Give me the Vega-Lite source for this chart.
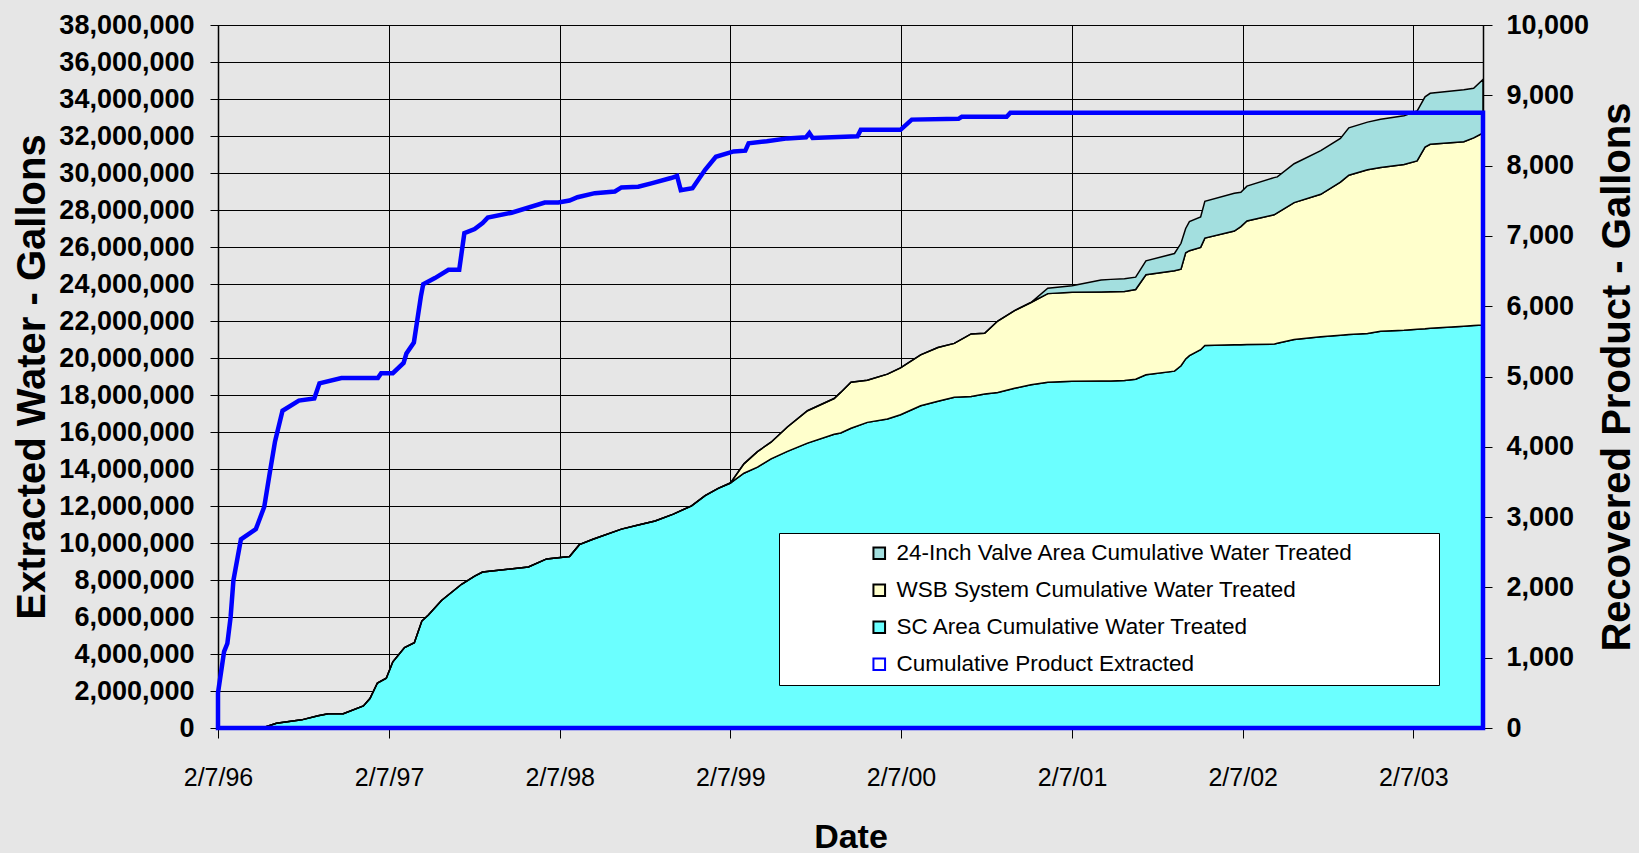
{
  "$schema": "https://vega.github.io/schema/vega-lite/v6.json",
  "autosize": {"type": "none"},
  "width": 1265,
  "height": 703,
  "padding": {"left": 218, "top": 25, "right": 156, "bottom": 125},
  "background": "#e6e6e6",
  "config": {
    "view": {"stroke": "#000000", "strokeWidth": 1},
    "axis": {
      "labelFont": "Liberation Sans",
      "titleFont": "Liberation Sans",
      "labelColor": "#000000",
      "titleColor": "#000000",
      "tickColor": "#000000",
      "domainColor": "#000000",
      "gridColor": "#000000",
      "gridOpacity": 1,
      "gridWidth": 1,
      "domainWidth": 1.5,
      "labelFlush": false,
      "labelOverlap": false
    }
  },
  "datasets": {
    "seriesInfo": [
      {"key": "sc", "name": "SC Area Cumulative Water Treated", "k": 1},
      {"key": "wsb", "name": "WSB System Cumulative Water Treated", "k": 2},
      {"key": "valve", "name": "24-Inch Valve Area Cumulative Water Treated", "k": 3}
    ],
    "water": [
      {"date": "1996-02-07", "sc": 0, "wsb": 0, "valve": 0},
      {"date": "1996-05-18", "sc": 50000, "wsb": 0, "valve": 0},
      {"date": "1996-06-11", "sc": 260000, "wsb": 0, "valve": 0},
      {"date": "1996-08-04", "sc": 440000, "wsb": 0, "valve": 0},
      {"date": "1996-09-08", "sc": 660000, "wsb": 0, "valve": 0},
      {"date": "1996-09-30", "sc": 770000, "wsb": 0, "valve": 0},
      {"date": "1996-11-01", "sc": 770000, "wsb": 0, "valve": 0},
      {"date": "1996-12-14", "sc": 1190000, "wsb": 0, "valve": 0},
      {"date": "1996-12-28", "sc": 1590000, "wsb": 0, "valve": 0},
      {"date": "1997-01-13", "sc": 2430000, "wsb": 0, "valve": 0},
      {"date": "1997-02-01", "sc": 2690000, "wsb": 0, "valve": 0},
      {"date": "1997-02-15", "sc": 3580000, "wsb": 0, "valve": 0},
      {"date": "1997-03-12", "sc": 4350000, "wsb": 0, "valve": 0},
      {"date": "1997-04-02", "sc": 4610000, "wsb": 0, "valve": 0},
      {"date": "1997-04-18", "sc": 5780000, "wsb": 0, "valve": 0},
      {"date": "1997-05-02", "sc": 6110000, "wsb": 0, "valve": 0},
      {"date": "1997-05-30", "sc": 6890000, "wsb": 0, "valve": 0},
      {"date": "1997-07-12", "sc": 7770000, "wsb": 0, "valve": 0},
      {"date": "1997-08-09", "sc": 8210000, "wsb": 0, "valve": 0},
      {"date": "1997-08-26", "sc": 8430000, "wsb": 0, "valve": 0},
      {"date": "1997-12-02", "sc": 8700000, "wsb": 0, "valve": 0},
      {"date": "1998-01-10", "sc": 9140000, "wsb": 0, "valve": 0},
      {"date": "1998-02-28", "sc": 9270000, "wsb": 0, "valve": 0},
      {"date": "1998-03-21", "sc": 9910000, "wsb": 0, "valve": 0},
      {"date": "1998-04-19", "sc": 10200000, "wsb": 0, "valve": 0},
      {"date": "1998-06-19", "sc": 10750000, "wsb": 0, "valve": 0},
      {"date": "1998-07-25", "sc": 10970000, "wsb": 0, "valve": 0},
      {"date": "1998-08-30", "sc": 11190000, "wsb": 0, "valve": 0},
      {"date": "1998-10-08", "sc": 11560000, "wsb": 0, "valve": 0},
      {"date": "1998-11-16", "sc": 12010000, "wsb": 0, "valve": 0},
      {"date": "1998-12-15", "sc": 12560000, "wsb": 0, "valve": 0},
      {"date": "1999-01-12", "sc": 12950000, "wsb": 0, "valve": 0},
      {"date": "1999-02-07", "sc": 13240000, "wsb": 0, "valve": 0},
      {"date": "1999-03-08", "sc": 13770000, "wsb": 510000, "valve": 0},
      {"date": "1999-04-06", "sc": 14100000, "wsb": 840000, "valve": 0},
      {"date": "1999-05-05", "sc": 14550000, "wsb": 900000, "valve": 0},
      {"date": "1999-06-09", "sc": 14950000, "wsb": 1320000, "valve": 0},
      {"date": "1999-07-22", "sc": 15400000, "wsb": 1750000, "valve": 0},
      {"date": "1999-09-17", "sc": 15880000, "wsb": 1930000, "valve": 0},
      {"date": "1999-10-01", "sc": 15950000, "wsb": 2190000, "valve": 0},
      {"date": "1999-10-23", "sc": 16200000, "wsb": 2490000, "valve": 0},
      {"date": "1999-11-27", "sc": 16520000, "wsb": 2280000, "valve": 0},
      {"date": "2000-01-09", "sc": 16700000, "wsb": 2430000, "valve": 0},
      {"date": "2000-02-06", "sc": 16930000, "wsb": 2540000, "valve": 0},
      {"date": "2000-03-20", "sc": 17420000, "wsb": 2750000, "valve": 0},
      {"date": "2000-04-26", "sc": 17660000, "wsb": 2910000, "valve": 0},
      {"date": "2000-05-31", "sc": 17880000, "wsb": 2910000, "valve": 0},
      {"date": "2000-07-06", "sc": 17920000, "wsb": 3380000, "valve": 0},
      {"date": "2000-08-04", "sc": 18050000, "wsb": 3290000, "valve": 0},
      {"date": "2000-09-01", "sc": 18140000, "wsb": 3860000, "valve": 0},
      {"date": "2000-10-07", "sc": 18360000, "wsb": 4200000, "valve": 0},
      {"date": "2000-11-11", "sc": 18550000, "wsb": 4450000, "valve": 0},
      {"date": "2000-12-17", "sc": 18690000, "wsb": 4790000, "valve": 290000},
      {"date": "2001-02-07", "sc": 18740000, "wsb": 4810000, "valve": 350000},
      {"date": "2001-04-10", "sc": 18760000, "wsb": 4810000, "valve": 650000},
      {"date": "2001-05-01", "sc": 18760000, "wsb": 4820000, "valve": 670000},
      {"date": "2001-05-30", "sc": 18780000, "wsb": 4810000, "valve": 690000},
      {"date": "2001-06-23", "sc": 18850000, "wsb": 4850000, "valve": 670000},
      {"date": "2001-07-15", "sc": 19090000, "wsb": 5410000, "valve": 750000},
      {"date": "2001-09-14", "sc": 19290000, "wsb": 5430000, "valve": 930000},
      {"date": "2001-09-28", "sc": 19580000, "wsb": 5220000, "valve": 1400000},
      {"date": "2001-10-08", "sc": 19950000, "wsb": 5740000, "valve": 1310000},
      {"date": "2001-10-16", "sc": 20130000, "wsb": 5670000, "valve": 1570000},
      {"date": "2001-11-09", "sc": 20450000, "wsb": 5530000, "valve": 1650000},
      {"date": "2001-11-18", "sc": 20680000, "wsb": 5800000, "valve": 1990000},
      {"date": "2002-01-20", "sc": 20710000, "wsb": 6150000, "valve": 2040000},
      {"date": "2002-02-03", "sc": 20720000, "wsb": 6380000, "valve": 1860000},
      {"date": "2002-02-16", "sc": 20730000, "wsb": 6680000, "valve": 1880000},
      {"date": "2002-04-15", "sc": 20750000, "wsb": 6990000, "valve": 2010000},
      {"date": "2002-04-22", "sc": 20800000, "wsb": 7050000, "valve": 1940000},
      {"date": "2002-05-28", "sc": 21000000, "wsb": 7400000, "valve": 2100000},
      {"date": "2002-07-24", "sc": 21150000, "wsb": 7700000, "valve": 2360000},
      {"date": "2002-09-04", "sc": 21230000, "wsb": 8280000, "valve": 2360000},
      {"date": "2002-09-22", "sc": 21270000, "wsb": 8610000, "valve": 2560000},
      {"date": "2002-11-01", "sc": 21330000, "wsb": 8840000, "valve": 2580000},
      {"date": "2002-11-29", "sc": 21450000, "wsb": 8850000, "valve": 2600000},
      {"date": "2003-01-18", "sc": 21500000, "wsb": 8960000, "valve": 2640000},
      {"date": "2003-02-15", "sc": 21550000, "wsb": 9100000, "valve": 2700000},
      {"date": "2003-03-04", "sc": 21580000, "wsb": 9820000, "valve": 2720000},
      {"date": "2003-03-15", "sc": 21610000, "wsb": 9940000, "valve": 2760000},
      {"date": "2003-05-26", "sc": 21720000, "wsb": 9970000, "valve": 2810000},
      {"date": "2003-06-16", "sc": 21760000, "wsb": 10140000, "valve": 2680000},
      {"date": "2003-07-06", "sc": 21780000, "wsb": 10380000, "valve": 2890000}
    ],
    "product": [
      {"date": "1996-02-07", "gallons": 500},
      {"date": "1996-02-20", "gallons": 1086},
      {"date": "1996-02-27", "gallons": 1202},
      {"date": "1996-03-05", "gallons": 1580},
      {"date": "1996-03-11", "gallons": 2102},
      {"date": "1996-03-27", "gallons": 2683},
      {"date": "1996-04-28", "gallons": 2829},
      {"date": "1996-05-16", "gallons": 3148},
      {"date": "1996-05-28", "gallons": 3641},
      {"date": "1996-06-08", "gallons": 4077},
      {"date": "1996-06-24", "gallons": 4513},
      {"date": "1996-07-29", "gallons": 4658},
      {"date": "1996-08-31", "gallons": 4687},
      {"date": "1996-09-11", "gallons": 4902},
      {"date": "1996-10-28", "gallons": 4977},
      {"date": "1997-01-14", "gallons": 4977},
      {"date": "1997-01-21", "gallons": 5047},
      {"date": "1997-02-15", "gallons": 5047},
      {"date": "1997-03-10", "gallons": 5192},
      {"date": "1997-03-16", "gallons": 5326},
      {"date": "1997-04-01", "gallons": 5483},
      {"date": "1997-04-16", "gallons": 6139},
      {"date": "1997-04-21", "gallons": 6313},
      {"date": "1997-05-16", "gallons": 6400},
      {"date": "1997-06-14", "gallons": 6517},
      {"date": "1997-07-07", "gallons": 6517},
      {"date": "1997-07-18", "gallons": 7039},
      {"date": "1997-08-09", "gallons": 7097},
      {"date": "1997-08-26", "gallons": 7184},
      {"date": "1997-09-06", "gallons": 7260},
      {"date": "1997-10-27", "gallons": 7330},
      {"date": "1998-01-06", "gallons": 7475},
      {"date": "1998-02-04", "gallons": 7475},
      {"date": "1998-02-28", "gallons": 7504},
      {"date": "1998-03-17", "gallons": 7550},
      {"date": "1998-04-23", "gallons": 7608},
      {"date": "1998-06-05", "gallons": 7632},
      {"date": "1998-06-19", "gallons": 7690},
      {"date": "1998-07-25", "gallons": 7700},
      {"date": "1998-08-22", "gallons": 7748},
      {"date": "1998-10-03", "gallons": 7823},
      {"date": "1998-10-16", "gallons": 7852},
      {"date": "1998-10-24", "gallons": 7649},
      {"date": "1998-11-18", "gallons": 7678},
      {"date": "1998-12-15", "gallons": 7940},
      {"date": "1999-01-07", "gallons": 8125},
      {"date": "1999-02-14", "gallons": 8201},
      {"date": "1999-03-11", "gallons": 8212},
      {"date": "1999-03-18", "gallons": 8317},
      {"date": "1999-04-26", "gallons": 8346},
      {"date": "1999-06-09", "gallons": 8387},
      {"date": "1999-07-19", "gallons": 8404},
      {"date": "1999-07-26", "gallons": 8462},
      {"date": "1999-08-02", "gallons": 8393},
      {"date": "1999-11-06", "gallons": 8416},
      {"date": "1999-11-13", "gallons": 8509},
      {"date": "2000-02-06", "gallons": 8509},
      {"date": "2000-03-01", "gallons": 8654},
      {"date": "2000-06-09", "gallons": 8665},
      {"date": "2000-06-16", "gallons": 8694},
      {"date": "2000-09-20", "gallons": 8694},
      {"date": "2000-09-28", "gallons": 8752},
      {"date": "2003-07-06", "gallons": 8752}
    ]
  },
  "layer": [
    {
      "data": {"name": "water"},
      "transform": [
        {"fold": ["sc", "wsb", "valve"], "as": ["key", "gallons"]},
        {"lookup": "key", "from": {"data": {"name": "seriesInfo"}, "key": "key", "fields": ["name", "k"]}}
      ],
      "mark": {"type": "area", "opacity": 1},
      "encoding": {
        "x": {
          "field": "date",
          "type": "temporal",
          "scale": {"domain": [{"year": 1996, "month": 2, "date": 7}, {"year": 2003, "month": 7, "date": 6}]},
          "axis": {
            "values": [
              {"year": 1996, "month": 2, "date": 7},
              {"year": 1997, "month": 2, "date": 7},
              {"year": 1998, "month": 2, "date": 7},
              {"year": 1999, "month": 2, "date": 7},
              {"year": 2000, "month": 2, "date": 7},
              {"year": 2001, "month": 2, "date": 7},
              {"year": 2002, "month": 2, "date": 7},
              {"year": 2003, "month": 2, "date": 7}
            ],
            "format": "%-m/%-d/%y",
            "labelFontSize": 25,
            "labelFontWeight": "normal",
            "tickSize": 10,
            "labelPadding": 27,
            "grid": true,
            "title": "Date",
            "titleFontSize": 34,
            "titleFontWeight": "bold",
            "titlePadding": 30
          }
        },
        "y": {
          "field": "gallons",
          "type": "quantitative",
          "stack": "zero",
          "scale": {"domain": [0, 38000000], "nice": false},
          "axis": {
            "orient": "left",
            "values": [0, 2000000, 4000000, 6000000, 8000000, 10000000, 12000000, 14000000, 16000000, 18000000, 20000000, 22000000, 24000000, 26000000, 28000000, 30000000, 32000000, 34000000, 36000000, 38000000],
            "format": ",d",
            "labelFontSize": 27,
            "labelFontWeight": "bold",
            "tickSize": 8,
            "labelPadding": 16,
            "grid": true,
            "title": "Extracted Water - Gallons",
            "titleFontSize": 40,
            "titleFontWeight": "bold",
            "titlePadding": 6
          }
        },
        "color": {
          "field": "name",
          "type": "nominal",
          "scale": {
            "domain": ["24-Inch Valve Area Cumulative Water Treated", "WSB System Cumulative Water Treated", "SC Area Cumulative Water Treated", "Cumulative Product Extracted"],
            "range": ["#a3dfdf", "#ffffcc", "#6bffff", "#ffffff"]
          },
          "legend": {
            "title": "\u00a0",
            "titleOrient": "right",
            "titlePadding": 77,
            "orient": "none",
            "legendX": 561,
            "legendY": 508,
            "padding": 9,
            "fillColor": "#ffffff",
            "strokeColor": "#000000",
            "symbolType": "square",
            "symbolSize": 135,
            "symbolOffset": 80,
            "symbolStrokeWidth": 2,
            "labelOffset": 6,
            "labelFont": "Liberation Sans",
            "labelFontSize": 22.5,
            "labelColor": "#000000",
            "labelLimit": 800,
            "rowPadding": 14
          }
        },
        "stroke": {
          "field": "name",
          "type": "nominal",
          "scale": {
            "domain": ["24-Inch Valve Area Cumulative Water Treated", "WSB System Cumulative Water Treated", "SC Area Cumulative Water Treated", "Cumulative Product Extracted"],
            "range": ["#000000", "#000000", "#000000", "#0000ff"]
          }
        },
        "strokeWidth": {"value": 1.5},
        "order": {"field": "k", "type": "quantitative", "sort": "ascending"}
      }
    },
    {
      "data": {"name": "product"},
      "mark": {"type": "area", "fill": "transparent", "stroke": "#0000ff", "strokeWidth": 4.5},
      "encoding": {
        "x": {"field": "date", "type": "temporal"},
        "y": {
          "field": "gallons",
          "type": "quantitative",
          "scale": {"domain": [0, 10000], "nice": false},
          "axis": {
            "orient": "right",
            "values": [0, 1000, 2000, 3000, 4000, 5000, 6000, 7000, 8000, 9000, 10000],
            "format": ",d",
            "labelFontSize": 27,
            "labelFontWeight": "bold",
            "tickSize": 9,
            "labelPadding": 14,
            "grid": false,
            "title": "Recovered Product - Gallons",
            "titleFontSize": 40,
            "titleFontWeight": "bold",
            "titleAngle": -90,
            "titleBaseline": "top",
            "titlePadding": 9
          }
        }
      }
    }
  ],
  "resolve": {"scale": {"y": "independent"}}
}
